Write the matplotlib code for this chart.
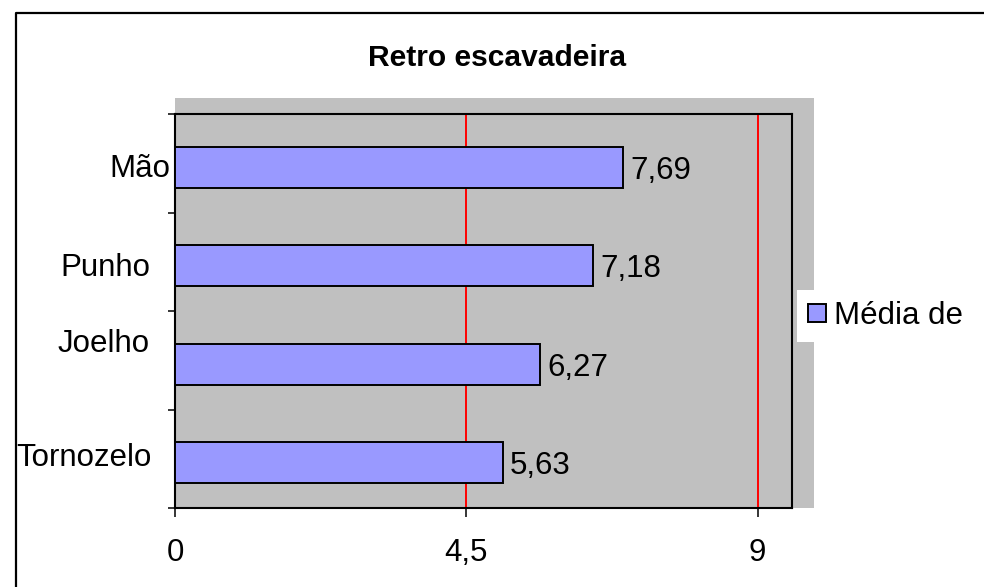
import matplotlib
matplotlib.use("Agg")
import matplotlib.pyplot as plt
from matplotlib.patches import Rectangle, Patch
from matplotlib.lines import Line2D
from matplotlib.transforms import ScaledTranslation

# Chart data
title = "Retro escavadeira"
categories = ["Mão", "Punho", "Joelho", "Tornozelo"]
medias = [7.69, 7.18, 6.27, 5.63]
value_labels = ["7,69", "7,18", "6,27", "5,63"]
x_ticks = [0, 5, 10]
x_tick_labels = ["0", "4,5", "9"]
series_name = "Média de"

plt.rcParams['font.family'] = ['Liberation Sans', 'DejaVu Sans']

W, H = 984, 587
fig = plt.figure(figsize=(W / 100, H / 100), dpi=100)


def fx(px):
    return px / W


def fy(py):
    return 1 - py / H


GRAY = '#C0C0C0'
BAR = '#9999FF'
FS = 22.5

# outer chart border
fig.add_artist(Line2D([fx(16), fx(16), 1.01], [-0.01, fy(13), fy(13)],
                      transform=fig.transFigure, color='black', lw=1.6))

# gray plot-area backdrop
fig.add_artist(Rectangle((fx(175), fy(508)), fx(814) - fx(175), fy(98) - fy(508),
                         transform=fig.transFigure, facecolor=GRAY,
                         edgecolor='none', zorder=0))

ax = fig.add_axes([fx(175), fy(508), fx(792) - fx(175), fy(114) - fy(508)])
ax.set_facecolor(GRAY)
ax.set_zorder(1)

ypos = list(range(len(categories)))
bars = ax.barh([y + 0.04 for y in ypos], medias, height=0.42, color=BAR,
               edgecolor='black', linewidth=1.4, zorder=3)

ax.set_ylim(3.5, -0.5)
ax.set_xlim(0, 10.59)

# x axis with red vertical gridlines
ax.set_xticks(x_ticks)
ax.set_xticklabels(x_tick_labels, fontsize=FS)
ax.xaxis.grid(True, color='red', lw=1.4)
ax.set_axisbelow(True)
ax.tick_params(axis='x', direction='out', length=6.5, width=1.1, pad=15)

# y axis: ticks on category boundaries, labels at category centres
ax.set_yticks([-0.5, 0.5, 1.5, 2.5, 3.5])
ax.set_yticklabels([])
ax.set_yticks(ypos, minor=True)
ax.set_yticklabels(categories, minor=True, fontsize=FS)
ax.tick_params(axis='y', which='major', direction='out', length=5, width=1.1)
ax.tick_params(axis='y', which='minor', length=0, pad=3.6)

label_shift_px = [(0, -2), (-20, -3), (-20, 20), (-18, 4)]
for lbl, (dx, dy) in zip(ax.get_yticklabels(minor=True), label_shift_px):
    lbl.set_transform(lbl.get_transform() +
                      ScaledTranslation(dx / 100, dy / 100, fig.dpi_scale_trans))

for s in ax.spines.values():
    s.set_color('black')
    s.set_linewidth(1.5)

# value labels at bar ends
for bar, txt in zip(bars, value_labels):
    ax.annotate(txt, xy=(bar.get_width(), bar.get_y() + bar.get_height() / 2),
                xytext=(5, -2.5), textcoords='offset points',
                ha='left', va='center', fontsize=FS, zorder=4)

# legend
leg = fig.legend(handles=[Patch(facecolor=BAR, edgecolor='black', lw=1.4)],
                 labels=[series_name], loc='center left',
                 bbox_to_anchor=(fx(797), fy(316)), frameon=True,
                 fancybox=False, framealpha=1, facecolor='white',
                 edgecolor='none', fontsize=FS, handlelength=0.58,
                 handleheight=0.55, handletextpad=0.26, borderpad=0.35,
                 borderaxespad=0)
leg.set_zorder(5)

fig.text(fx(497), fy(66), title, ha='center', va='baseline',
         fontsize=21.6, fontweight='bold')

fig.savefig("out.png", dpi=100)
